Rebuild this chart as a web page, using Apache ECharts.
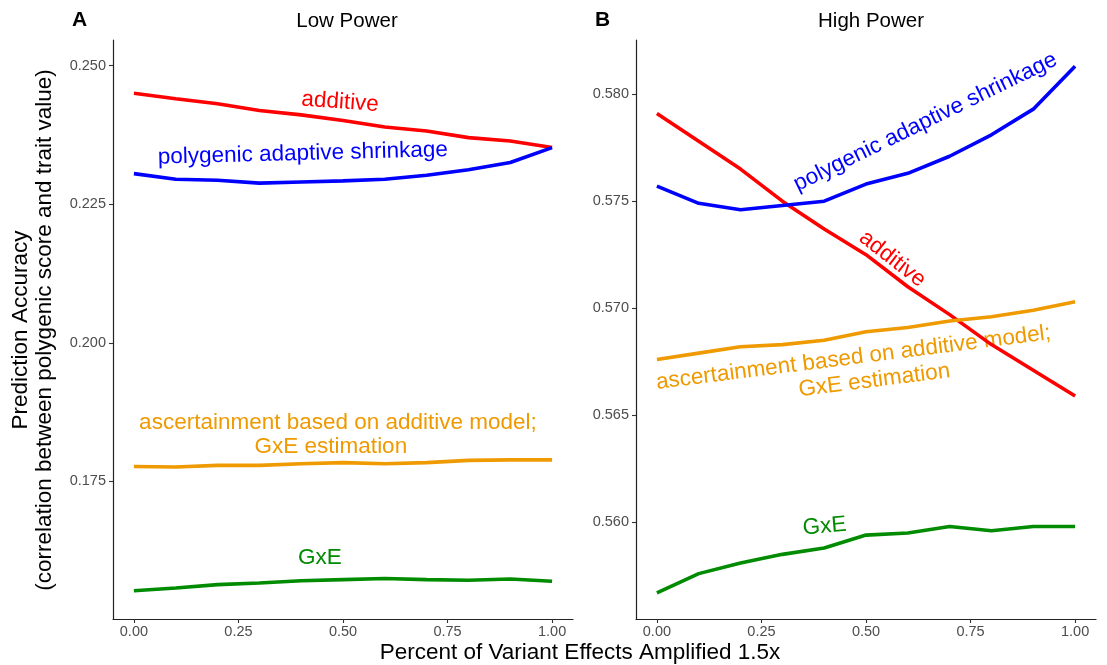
<!DOCTYPE html>
<html>
<head>
<meta charset="utf-8">
<script src="https://cdn.jsdelivr.net/npm/echarts@6/dist/echarts.min.js"></script>
<style>
html,body{margin:0;padding:0;background:#fff;}
#main{width:1107px;height:665px;}
</style>
</head>
<body>
<div id="main"></div>
<script>
var x = [0, 0.1, 0.2, 0.3, 0.4, 0.5, 0.6, 0.7, 0.8, 0.9, 1.0];
var xTicks = [0, 0.25, 0.5, 0.75, 1.0];

// Low Power (panel A)
var lowAdditive = [0.2450, 0.2440, 0.2431, 0.2419, 0.2411, 0.2401, 0.2389, 0.2382, 0.2370, 0.2364, 0.2352];
var lowPolygenic = [0.2305, 0.2295, 0.2293, 0.2288, 0.2290, 0.2292, 0.2295, 0.2302, 0.2312, 0.2325, 0.2352];
var lowAscert = [0.1777, 0.1776, 0.1779, 0.1779, 0.1782, 0.1784, 0.1782, 0.1784, 0.1788, 0.1789, 0.1789];
var lowGxE = [0.1553, 0.1558, 0.1564, 0.1567, 0.1571, 0.1573, 0.1575, 0.1573, 0.1572, 0.1574, 0.1570];
var lowTicks = [0.175, 0.200, 0.225, 0.250];

// High Power (panel B)
var highAdditive = [0.5791, 0.5778, 0.5765, 0.5750, 0.5737, 0.5725, 0.5710, 0.5697, 0.5683, 0.5671, 0.5659];
var highPolygenic = [0.5757, 0.5749, 0.5746, 0.5748, 0.5750, 0.5758, 0.5763, 0.5771, 0.5781, 0.5793, 0.5813];
var highAscert = [0.5676, 0.5679, 0.5682, 0.5683, 0.5685, 0.5689, 0.5691, 0.5694, 0.5696, 0.5699, 0.5703];
var highGxE = [0.5567, 0.5576, 0.5581, 0.5585, 0.5588, 0.5594, 0.5595, 0.5598, 0.5596, 0.5598, 0.5598];
var highTicks = [0.560, 0.565, 0.570, 0.575, 0.580];

// annotation labels: [x, y, text, rotate, colour]
var lowLabels = [
  [0.493, 0.2434, 'additive', -4, '#ff0000'],
  [0.404, 0.2341, 'polygenic adaptive shrinkage', 1.5, '#0000ff'],
  [0.488, 0.18551, 'ascertainment based on additive model;', 0, '#EE9A00'],
  [0.471, 0.18134, 'GxE estimation', 0, '#EE9A00'],
  [0.445, 0.1612, 'GxE', 0, '#008B00']
];
var highLabels = [
  [0.642, 0.5787, 'polygenic adaptive shrinkage', 26, '#0000ff'],
  [0.563, 0.5723, 'additive', -38, '#ff0000'],
  [0.470, 0.56768, 'ascertainment based on additive model;', 7.2, '#EE9A00'],
  [0.520, 0.56662, 'GxE estimation', 7.2, '#EE9A00'],
  [0.401, 0.5598, 'GxE', 5, '#008B00']
];

var colors = {add: '#ff0000', poly: '#0000ff', asc: '#EE9A00', gxe: '#008B00'};
var font = 'Liberation Sans, Arial, sans-serif';

function pairs(ys) {
  return x.map(function (v, i) { return [v, ys[i]]; });
}
function line(idx, ys, c) {
  return {
    type: 'line', xAxisIndex: idx, yAxisIndex: idx, data: pairs(ys),
    showSymbol: false, symbol: 'none', smooth: false,
    lineStyle: {color: c, width: 3.6}, silent: true, animation: false
  };
}
function labels(idx, list) {
  return {
    type: 'scatter', xAxisIndex: idx, yAxisIndex: idx, symbolSize: 0, silent: true, animation: false,
    itemStyle: {opacity: 1},
    data: list.map(function (d) {
      return {
        value: [d[0], d[1]],
        label: {
          show: true, position: 'inside', formatter: d[2], rotate: d[3], color: d[4], opacity: 1,
          fontSize: 22.5, fontFamily: font, align: 'center', verticalAlign: 'middle'
        }
      };
    })
  };
}
function xAxis(idx) {
  return {
    type: 'value', gridIndex: idx, min: -0.05, max: 1.05,
    splitLine: {show: false},
    axisLine: {onZero: false, lineStyle: {color: '#222', width: 1.2}},
    axisTick: {customValues: xTicks, length: 4, lineStyle: {color: '#333', width: 1.1}},
    axisLabel: {customValues: xTicks, color: '#4d4d4d', fontSize: 14.5, fontFamily: font, margin: 5,
      formatter: function (v) { return v.toFixed(2); }}
  };
}
function yAxis(idx, mn, mx, ticks) {
  return {
    type: 'value', gridIndex: idx, min: mn, max: mx,
    splitLine: {show: false},
    axisLine: {show: true, onZero: false, lineStyle: {color: '#222', width: 1.2}},
    axisTick: {show: true, customValues: ticks, length: 4, lineStyle: {color: '#333', width: 1.1}},
    axisLabel: {customValues: ticks, color: '#4d4d4d', fontSize: 14.5, fontFamily: font, margin: 7,
      formatter: function (v) { return v.toFixed(3); }}
  };
}

var chart = echarts.init(document.getElementById('main'));
var option = {
  backgroundColor: '#fff',
  animation: false,
  grid: [
    {left: 113, right: 534, top: 40, bottom: 46},
    {left: 636, right: 11, top: 40, bottom: 46}
  ],
  xAxis: [xAxis(0), xAxis(1)],
  yAxis: [yAxis(0, 0.1502, 0.2546, lowTicks), yAxis(1, 0.55548, 0.58253, highTicks)],
  title: [
    {text: 'A', left: 67, top: 5, textStyle: {fontSize: 21, fontWeight: 'bold', fontFamily: font, color: '#000'}},
    {text: 'Low Power', left: 342, top: 6, textAlign: 'center', textStyle: {fontSize: 20.5, fontWeight: 'normal', fontFamily: font, color: '#000'}},
    {text: 'B', left: 590, top: 5, textStyle: {fontSize: 21, fontWeight: 'bold', fontFamily: font, color: '#000'}},
    {text: 'High Power', left: 866, top: 6, textAlign: 'center', textStyle: {fontSize: 20.5, fontWeight: 'normal', fontFamily: font, color: '#000'}}
  ],
  graphic: [
    {type: 'text', x: 33, y: 330, rotation: Math.PI / 2,
      style: {text: 'Prediction Accuracy\n(correlation between polygenic score and trait value)',
        fill: '#000', fontSize: 22.5, fontFamily: font, align: 'center', verticalAlign: 'middle', lineHeight: 24}},
    {type: 'text', x: 580, y: 653,
      style: {text: 'Percent of Variant Effects Amplified 1.5x', fill: '#000', fontSize: 22.5, fontFamily: font,
        align: 'center', verticalAlign: 'middle'}}
  ],
  series: [
    line(0, lowAdditive, colors.add),
    line(0, lowPolygenic, colors.poly),
    line(0, lowAscert, colors.asc),
    line(0, lowGxE, colors.gxe),
    labels(0, lowLabels),
    line(1, highAdditive, colors.add),
    line(1, highPolygenic, colors.poly),
    line(1, highAscert, colors.asc),
    line(1, highGxE, colors.gxe),
    labels(1, highLabels)
  ]
};
chart.setOption(option);
</script>
</body>
</html>
